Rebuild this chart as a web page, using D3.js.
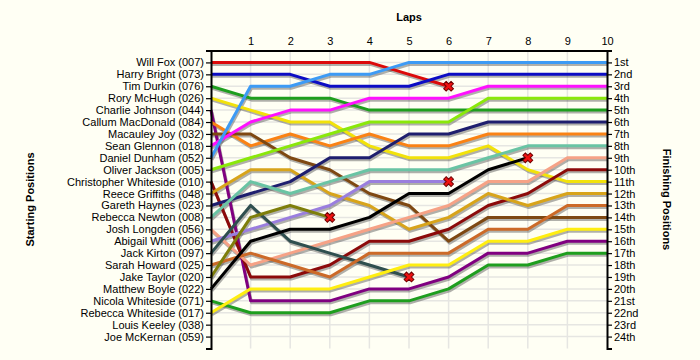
<!DOCTYPE html>
<html>
<head>
<meta charset="utf-8">
<script src="https://cdn.jsdelivr.net/npm/d3@7/dist/d3.min.js"></script>
<style>
  html, body { margin: 0; padding: 0; background: #fffff4; }
  svg { display: block; }
  text { font-family: "Liberation Sans", Arial, sans-serif; }
</style>
</head>
<body>
<svg id="chart" width="700" height="360"></svg>
<script>
// ---- data ----
const laps = [0, 1, 2, 3, 4, 5, 6, 7, 8, 9, 10];
const drivers = [
  "Will Fox (007)", "Harry Bright (073)", "Tim Durkin (076)", "Rory McHugh (026)",
  "Charlie Johnson (044)", "Callum MacDonald (084)", "Macauley Joy (032)", "Sean Glennon (018)",
  "Daniel Dunham (052)", "Oliver Jackson (005)", "Christopher Whiteside (010)", "Reece Griffiths (048)",
  "Gareth Haynes (023)", "Rebecca Newton (008)", "Josh Longden (056)", "Abigail Whitt (006)",
  "Jack Kirton (097)", "Sarah Howard (025)", "Jake Taylor (020)", "Matthew Boyle (022)",
  "Nicola Whiteside (071)", "Rebecca Whiteside (017)", "Louis Keeley (038)", "Joe McKernan (059)"
];
// position at each lap (lap 0 = start); shorter array = retired at last lap shown
const positions = [
  [1, 1, 1, 1, 1, 2, 3],
  [2, 2, 2, 3, 3, 3, 2, 2, 2, 2, 2],
  [3, 4, 4, 4, 5, 5, 5, 5, 5, 5, 5],
  [4, 5, 6, 6, 8, 9, 9, 8, 10, 11, 11],
  [5, 21, 21, 21, 20, 20, 19, 17, 17, 16, 16],
  [6, 8, 7, 8, 7, 8, 8, 7, 7, 7, 7],
  [7, 7, 9, 10, 12, 13, 16, 14, 14, 14, 14],
  [8, 6, 5, 5, 4, 4, 4, 3, 3, 3, 3],
  [9, 3, 3, 2, 2, 1, 1, 1, 1, 1, 1],
  [10, 9, 8, 7, 6, 6, 6, 4, 4, 4, 4],
  [11, 19, 19, 18, 16, 16, 15, 13, 12, 10, 10],
  [12, 10, 10, 12, 13, 15, 14, 12, 13, 12, 12],
  [13, 12, 11, 9, 9, 7, 7, 6, 6, 6, 6],
  [14, 11, 12, 11, 10, 10, 10, 9, 8, 8, 8],
  [15, 18, 17, 16, 15, 14, 13, 11, 11, 9, 9],
  [16, 15, 14, 13, 11, 11, 11],
  [17, 13, 16, 17, 18, 19],
  [18, 17, 18, 19, 17, 17, 17, 15, 15, 13, 13],
  [19, 14, 13, 14],
  [20, 16, 15, 15, 14, 12, 12, 10, 9],
  [21, 22, 22, 22, 21, 21, 20, 18, 18, 17, 17],
  [22, 20, 20, 20, 19, 18, 18, 16, 16, 15, 15],
  [],
  []
];
const colors = [
  "#dc0a0a", "#0c0cc4", "#1e9e1e", "#f2e20a",
  "#800080", "#fa8214", "#7e4812", "#ff10ff",
  "#3d9bf5", "#8ae80a", "#8c0a0a", "#d8a41a",
  "#1e1e6e", "#6ac4a4", "#f6a286", "#9a7ede",
  "#2f4f4f", "#cc6a28", "#7e7e0a", "#000000",
  "#1e9e1e", "#ffee10", "#999999", "#999999"
];
const finishLabels = ["1st","2nd","3rd","4th","5th","6th","7th","8th","9th","10th","11th","12th",
  "13th","14th","15th","16th","17th","18th","19th","20th","21st","22nd","23rd","24th"];

// ---- layout ----
const svg = d3.select("#chart");
const pLeft = 211, pRight = 607, pTop = 50.5, pBottom = 348.5;
const x = d3.scaleLinear().domain([0, 10]).range([pLeft, pRight]);
const y = d3.scaleLinear().domain([0, 25]).range([pTop, pBottom]);
const rows = d3.range(1, 25);

// grid
const grid = svg.append("g");
grid.selectAll("line.h").data(rows).join("line").attr("class", "h")
  .attr("x1", pLeft).attr("x2", pRight)
  .attr("y1", d => y(d)).attr("y2", d => y(d))
  .attr("stroke", "#e6e6e2").attr("stroke-width", 1.5);
grid.selectAll("line.v").data(laps.slice(1, 10)).join("line").attr("class", "v")
  .attr("x1", d => x(d)).attr("x2", d => x(d))
  .attr("y1", pTop).attr("y2", pBottom)
  .attr("stroke", "#e6e6e2").attr("stroke-width", 1.5);

// lines
const lineGen = d3.line().x((d, i) => x(laps[i])).y(d => y(d));
const series = positions.map((p, i) => ({ p, c: colors[i], i })).filter(s => s.p.length > 0);

const shadowG = svg.append("g").attr("transform", "translate(1,2)");
shadowG.selectAll("path").data(series).join("path")
  .attr("d", s => lineGen(s.p))
  .attr("fill", "none").attr("stroke", "rgba(80,80,80,0.45)")
  .attr("stroke-width", 3).attr("stroke-linejoin", "round");

const lineG = svg.append("g");
lineG.selectAll("path").data(series).join("path")
  .attr("d", s => lineGen(s.p))
  .attr("fill", "none").attr("stroke", s => s.c)
  .attr("stroke-width", 3).attr("stroke-linejoin", "round");

// retirement markers
const retired = series.filter(s => s.p.length < laps.length);
const cross = d3.symbol().type(d3.symbolCross).size(60);
svg.append("g").selectAll("path").data(retired).join("path")
  .attr("d", cross)
  .attr("transform", s => `translate(${x(laps[s.p.length - 1])},${y(s.p[s.p.length - 1])}) rotate(45)`)
  .attr("fill", "#ee1111").attr("stroke", "#700000").attr("stroke-width", 1);

// axes
const leftAxis = d3.axisLeft(y).tickValues(rows).tickFormat(d => drivers[d - 1]).tickSize(5).tickPadding(2);
const rightAxis = d3.axisRight(y).tickValues(rows).tickFormat(d => finishLabels[d - 1]).tickSize(5).tickPadding(2);
const topAxis = d3.axisTop(x).tickValues(laps.slice(1)).tickSize(0).tickPadding(6);

function styleAxis(g) {
  g.select(".domain").attr("stroke", "#000").attr("stroke-width", 2);
  g.selectAll(".tick line").attr("stroke", "#000").attr("stroke-width", 1.2);
  g.selectAll(".tick text").attr("fill", "#000").style("font-size", "11px")
    .style("font-family", "'Liberation Sans', Arial, sans-serif");
}
svg.append("g").attr("transform", `translate(${pLeft},0)`).call(leftAxis).call(styleAxis);
svg.append("g").attr("transform", `translate(${pRight},0)`).call(rightAxis).call(styleAxis);
svg.append("g").attr("transform", `translate(0,${pTop})`).call(topAxis).call(styleAxis);

// titles
svg.append("text").attr("x", (pLeft + pRight) / 2).attr("y", 21)
  .attr("text-anchor", "middle").style("font-size", "11px").style("font-weight", "bold")
  .text("Laps");
svg.append("text").attr("transform", `translate(34,${(pTop + pBottom) / 2}) rotate(-90)`)
  .attr("text-anchor", "middle").style("font-size", "11px").style("font-weight", "bold")
  .text("Starting Positions");
svg.append("text").attr("transform", `translate(663,${(pTop + pBottom) / 2}) rotate(90)`)
  .attr("text-anchor", "middle").style("font-size", "11px").style("font-weight", "bold")
  .text("Finishing Positions");
</script>
</body>
</html>
